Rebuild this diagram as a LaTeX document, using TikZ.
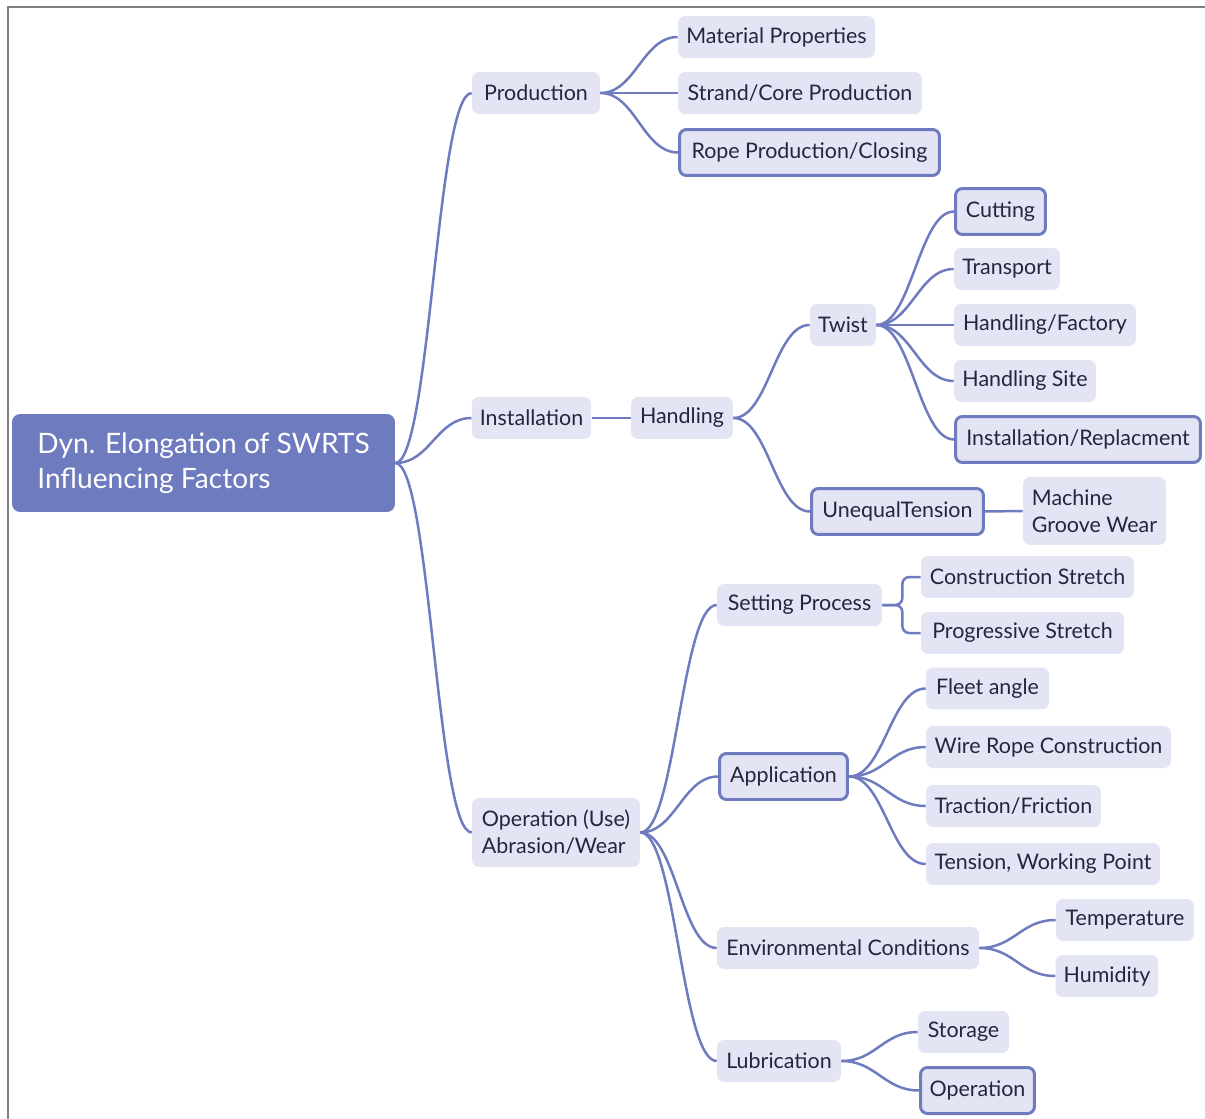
\documentclass[tikz,border=0pt]{standalone}
\usepackage{fontspec}
\setmainfont{Lato}
\definecolor{mapblue}{RGB}{110,123,191}
\definecolor{mapfill}{RGB}{227,229,244}
\definecolor{maptext}{RGB}{35,38,62}
\definecolor{framegray}{RGB}{128,128,128}
\tikzset{
  topic/.style={fill=mapfill, rounded corners=0.14cm, text=maptext, font=\fontsize{12.2}{15.3}\selectfont, minimum height=0.84cm, inner xsep=0.16cm},
  marked/.style={topic, draw=mapblue, line width=0.06cm, minimum height=0.92cm},
  branch/.style={draw=mapblue, line width=0.05cm},
  swoop/.style={out=0, in=180, distance=0.7cm}
}
\begin{document}
\begin{tikzpicture}[x=0.02cm, y=-0.02cm]
            \useasboundingbox (0,0) rectangle (1205,1119);
            \draw[framegray, line width=0.06cm] (1210,7) -- (8,7) -- (8,1125);

            % central topic
            \node[fill=mapblue, rounded corners=0.16cm, text=white, align=left, font=\fontsize{16}{19.8}\selectfont, minimum width=7.66cm, minimum height=1.96cm] (root) at (203.5,463) {Dyn. Elongation of SWRTS\\Influencing Factors};

            % main branches
            \node[topic, minimum width=2.56cm] (prod) at (536,93) {Production};
            \node[topic, minimum width=2.38cm] (inst) at (531.5,418) {Installation};
            \node[topic, minimum width=3.36cm, align=left, minimum height=1.38cm] (oper) at (556,832.5) {Operation (Use)\\Abrasion/Wear};

            % production
            \node[topic, minimum width=3.94cm] (mat) at (776.5,37) {Material Properties};
            \node[topic, minimum width=4.88cm] (strand) at (800,93) {Strand/Core Production};
            \node[marked, minimum width=5.20cm] (rope) at (809.5,152.5) {Rope Production/Closing};

            % installation
            \node[topic, minimum width=2.04cm] (hand) at (682,418) {Handling};
            \node[topic, minimum width=1.32cm] (twist) at (843,325) {Twist};
            \node[marked, minimum width=1.80cm] (cut) at (1000.5,211.5) {Cutting};
            \node[topic, minimum width=2.12cm] (trans) at (1007,269) {Transport};
            \node[topic, minimum width=3.64cm] (hfac) at (1045,325) {Handling/Factory};
            \node[topic, minimum width=2.84cm] (hsite) at (1025,381) {Handling Site};
            \node[marked, minimum width=4.90cm] (inrep) at (1078,439.5) {Installation/Replacment};
            \node[marked, minimum width=3.44cm] (uneq) at (897.5,511.5) {UnequalTension};
            \node[topic, minimum width=2.86cm, align=left, minimum height=1.36cm] (mach) at (1094.5,511) {Machine\\Groove Wear};

            % operation
            \node[topic, minimum width=3.30cm] (setp) at (799.5,605) {Setting Process};
            \node[topic, minimum width=4.26cm] (cons) at (1027.5,577) {Construction Stretch};
            \node[topic, minimum width=4.06cm] (prog) at (1022.5,633) {Progressive Stretch};
            \node[marked, minimum width=2.56cm] (appl) at (783.5,776.5) {Application};
            \node[topic, minimum width=2.46cm] (fleet) at (987.5,688.5) {Fleet angle};
            \node[topic, minimum width=4.90cm] (wire) at (1048.5,747) {Wire Rope Construction};
            \node[topic, minimum width=3.50cm] (trac) at (1013.5,806) {Traction/Friction};
            \node[topic, minimum width=4.68cm] (tens) at (1043,864) {Tension, Working Point};
            \node[topic, minimum width=5.24cm] (env) at (848,948) {Environmental Conditions};
            \node[topic, minimum width=2.76cm] (temp) at (1125,920) {Temperature};
            \node[topic, minimum width=2.04cm] (humid) at (1107,976) {Humidity};
            \node[topic, minimum width=2.48cm] (lub) at (779,1061) {Lubrication};
            \node[topic, minimum width=1.82cm] (stor) at (963.5,1032) {Storage};
            \node[marked, minimum width=2.28cm] (opn) at (977.5,1090.5) {Operation};

            % connectors
            \draw[branch] (root.east) to[swoop] (prod.west);
            \draw[branch] (root.east) to[swoop] (inst.west);
            \draw[branch] (root.east) to[swoop] (oper.west);

            \draw[branch] (prod.east) to[swoop] (mat.west);
            \draw[branch] (prod.east) -- (strand.west);
            \draw[branch] (prod.east) to[swoop] (rope.west);

            \draw[branch] (inst.east) -- (hand.west);
            \draw[branch] (hand.east) to[swoop] (twist.west);
            \draw[branch] (hand.east) to[swoop] (uneq.west);
            \draw[branch] (twist.east) to[swoop] (cut.west);
            \draw[branch] (twist.east) to[swoop] (trans.west);
            \draw[branch] (twist.east) -- (hfac.west);
            \draw[branch] (twist.east) to[swoop] (hsite.west);
            \draw[branch] (twist.east) to[swoop] (inrep.west);
            \draw[branch] (uneq.east) -- (mach.west);

            \draw[branch] (oper.east) to[swoop] (setp.west);
            \draw[branch] (oper.east) to[swoop] (appl.west);
            \draw[branch] (oper.east) to[swoop] (env.west);
            \draw[branch] (oper.east) to[swoop] (lub.west);
            \draw[branch, rounded corners=0.14cm] (setp.east) -- ++(20,0) |- (cons.west);
            \draw[branch, rounded corners=0.14cm] (setp.east) -- ++(20,0) |- (prog.west);
            \draw[branch] (appl.east) to[swoop] (fleet.west);
            \draw[branch] (appl.east) to[swoop] (wire.west);
            \draw[branch] (appl.east) to[swoop] (trac.west);
            \draw[branch] (appl.east) to[swoop] (tens.west);
            \draw[branch] (env.east) to[swoop] (temp.west);
            \draw[branch] (env.east) to[swoop] (humid.west);
            \draw[branch] (lub.east) to[swoop] (stor.west);
            \draw[branch] (lub.east) to[swoop] (opn.west);
\end{tikzpicture}
\end{document}
